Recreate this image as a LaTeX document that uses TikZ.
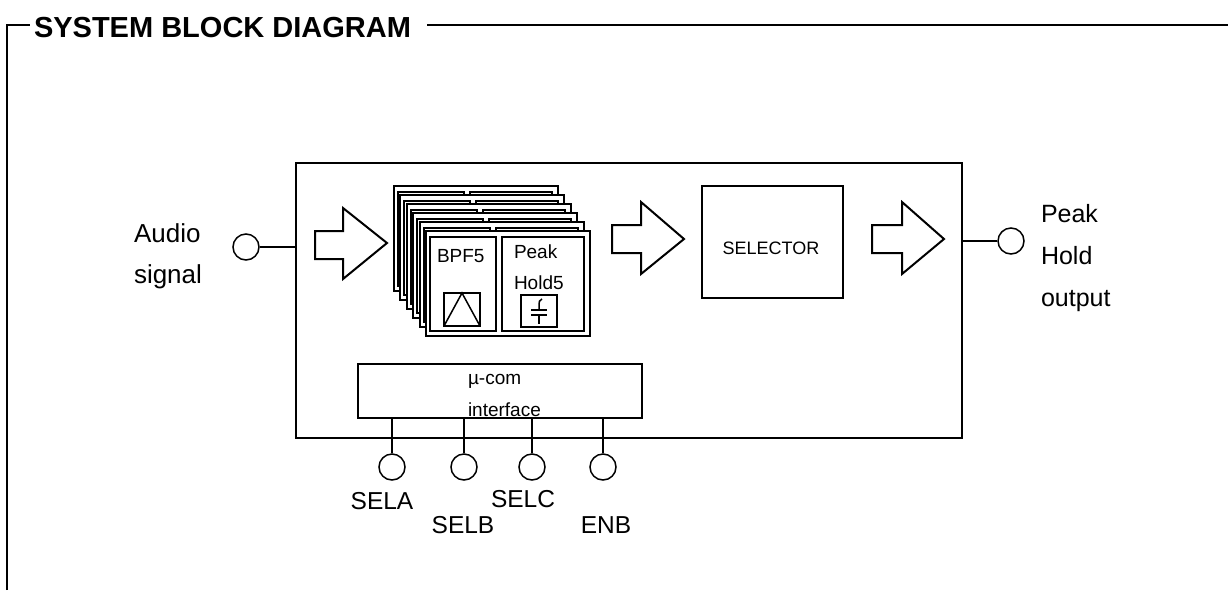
\documentclass[tikz,border=0pt]{standalone}
\usepackage{fontspec}
\setmainfont{Liberation Sans}
\begin{document}
\begin{tikzpicture}[x=1pt,y=-1pt,line width=2pt,line join=miter,
  box/.style={draw,rectangle,inner sep=0pt,line width=2pt},
  pin/.style={draw,circle,minimum size=26pt,inner sep=0pt,line width=1.5pt},
  big/.style={font=\fontsize{26}{31}\selectfont,inner sep=0pt},
  small/.style={font=\fontsize{19}{23}\selectfont,inner sep=0pt},
  title/.style={font=\fontsize{29}{34}\selectfont\bfseries,inner sep=0pt},
  blockarrow/.style={draw,line width=2pt,fill=white}]
\useasboundingbox (0,0) rectangle (1228,590);
% frame with title
\node[title,anchor=base west] (ttl) at (33,37) {SYSTEM BLOCK DIAGRAM};
\draw (7,590) -- (7,25) -- (30,25);
\draw (427,25) -- (1228,25);
% main box
\node[box,minimum width=666pt,minimum height=275pt] (main) at (629,300.5) {};
% input
\node[pin] (ain) at (246,247) {};
\draw (ain) -- (ain -| main.west);
\node[big,anchor=base west] (audio1) at (133,242) {Audio};
\node[big,anchor=base west] (audio2) at (133,283) {signal};
% output
\node[pin] (aout) at (1011,241) {};
\draw (main.east |- aout) -- (aout);
\node[big,font=\fontsize{25}{30}\selectfont,anchor=base west] (out1) at (1040,222) {Peak};
\node[big,font=\fontsize{25}{30}\selectfont,anchor=base west] (out2) at (1040,264) {Hold};
\node[big,font=\fontsize{25}{30}\selectfont,anchor=base west] (out3) at (1040,306) {output};
% block arrows
\draw[blockarrow] (315,231) -- (343,231) -- (343,208) -- (387,243) -- (343,279) -- (343,259) -- (315,259) -- cycle;
\draw[blockarrow] (612,225) -- (641,225) -- (641,202) -- (684,239) -- (641,274) -- (641,253) -- (612,253) -- cycle;
\draw[blockarrow] (872,225) -- (902,225) -- (902,202) -- (944,239) -- (902,274) -- (902,253) -- (872,253) -- cycle;
% stacked filter / peak-hold cards
\foreach \i in {0,...,5}{
  \begin{scope}[shift={(394+6.4*\i,186+9*\i)}]
    \draw[fill=white] (0,0) rectangle (164,105);
    \draw (4,6) rectangle (70,100);
    \draw (76,6) rectangle (158,100);
  \end{scope}
}
\node[small,anchor=base west] (bpf) at (436,262) {BPF5};
\node[small,anchor=base west] (pk1) at (513,258) {Peak};
\node[small,anchor=base west] (pk2) at (513,289) {Hold5};
% filter icon
\draw[line width=1.5pt] (444,293) rectangle (480,326);
\draw[line width=1.5pt] (444,326) -- (462,293) -- (480,326);
% capacitor icon
\draw[line width=1.5pt] (521,295) rectangle (557,327);
\draw[line width=1.5pt] (542,299) .. controls (539,300) and (539,302) .. (539,305) -- (539,310);
\draw[line width=1.5pt] (531,310) -- (547,310);
\draw[line width=1.5pt] (531,315) -- (547,315);
\draw[line width=1.5pt] (539,315) -- (539,324);
% selector
\node[box,minimum width=141pt,minimum height=112pt] (sel) at (772.5,242) {};
\node[small,font=\fontsize{18}{22}\selectfont] (seltxt) at (771,248) {SELECTOR};
% micro-com interface
\node[box,minimum width=284pt,minimum height=54pt] (mcom) at (500,391) {};
\node[small,anchor=base west] (mc1) at (467,384) {µ-com};
\node[small,anchor=base west] (mc2) at (467,416) {interface};
% pins
\foreach \x/\n in {392/pa,464/pb,532/pc,603/pd}{
  \node[pin] (\n) at (\x,467) {};
  \draw (\n.north |- mcom.south) -- (\n.north);
}
\node[big,font=\fontsize{24.5}{29}\selectfont,anchor=base] (la) at (382,509) {SELA};
\node[big,font=\fontsize{24.5}{29}\selectfont,anchor=base] (lb) at (463,533) {SELB};
\node[big,font=\fontsize{24.5}{29}\selectfont,anchor=base] (lc) at (523,507) {SELC};
\node[big,font=\fontsize{24.5}{29}\selectfont,anchor=base] (ld) at (606,533) {ENB};
\end{tikzpicture}
\end{document}
